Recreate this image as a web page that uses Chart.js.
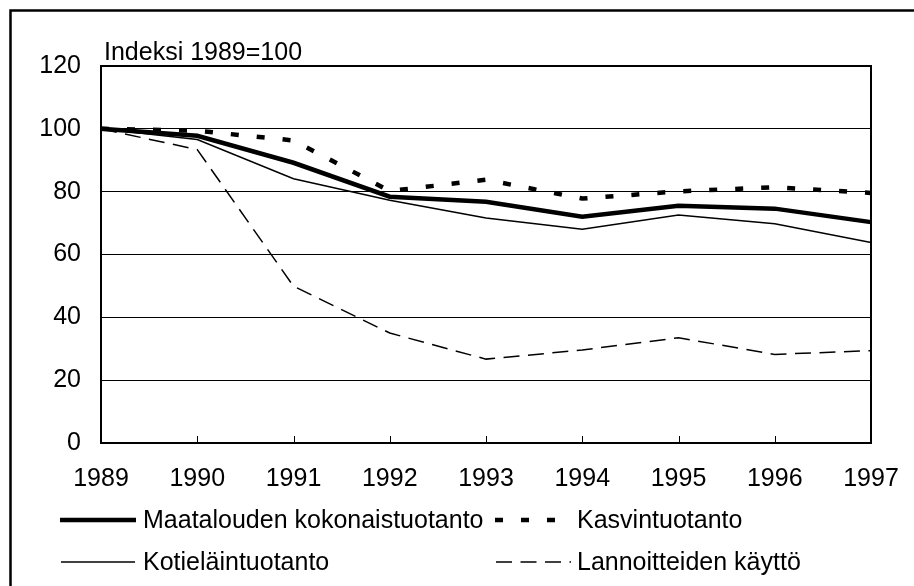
<!DOCTYPE html>
<html>
<head>
<meta charset="utf-8">
<script src="https://cdn.jsdelivr.net/npm/chart.js@4"></script>
<style>
  html, body { margin: 0; padding: 0; background: #fff; }
  #wrap { width: 914px; height: 586px; }
</style>
</head>
<body>
<div id="wrap"><canvas id="chart" width="914" height="586"></canvas></div>
<script>
const years = ['1989', '1990', '1991', '1992', '1993', '1994', '1995', '1996', '1997'];
const total = [100, 97.8, 89.2, 78.4, 76.8, 72.0, 75.5, 74.6, 70.3];
const crops = [100, 99.4, 96.3, 80.2, 83.8, 77.8, 80.1, 81.4, 79.6];
const livestock = [100, 96.6, 84.1, 77.3, 71.6, 68.0, 72.6, 69.8, 63.8];
const fertilizer = [100, 93.4, 49.9, 35.0, 26.7, 29.6, 33.5, 28.2, 29.4];
const yTicks = [0, 20, 40, 60, 80, 100, 120];

const FONT = "'Liberation Sans', Arial, sans-serif";
const FONT_SIZE = 25;

// where each legend entry sits: sample start/end, text x, row y
const legendSlots = [
    { x0: 60, x1: 136, tx: 143, y: 521 },
    { x0: 495, x1: 571, tx: 577, y: 521 },
    { x0: 61, x1: 135, tx: 143, y: 563 },
    { x0: 496, x1: 571, tx: 577, y: 563 }
];

const framePlugin = {
    id: 'frame',
    beforeDraw(chart) {
        const ctx = chart.ctx;
        ctx.save();
        ctx.fillStyle = '#fff';
        ctx.fillRect(0, 0, chart.width, chart.height);
        // outer frame (runs off the right and bottom edges)
        ctx.strokeStyle = '#000';
        ctx.lineWidth = 2.5;
        ctx.beginPath();
        ctx.moveTo(10.5, chart.height + 5);
        ctx.lineTo(10.5, 10.5);
        ctx.lineTo(chart.width + 5, 10.5);
        ctx.stroke();
        ctx.restore();
    },
    afterDraw(chart) {
        const ctx = chart.ctx;
        const a = chart.chartArea;
        const xs = chart.scales.x;
        ctx.save();
        // plot border
        ctx.strokeStyle = '#000';
        ctx.lineWidth = 2;
        ctx.strokeRect(a.left, a.top, a.right - a.left, a.bottom - a.top);
        // small inward tick marks on the x axis
        ctx.lineWidth = 1;
        for (let i = 1; i < years.length - 1; i++) {
            const px = Math.round(xs.getPixelForValue(i)) + 0.5;
            ctx.beginPath();
            ctx.moveTo(px, a.bottom);
            ctx.lineTo(px, a.bottom - 7);
            ctx.stroke();
        }
        // axis title
        ctx.fillStyle = '#000';
        ctx.font = FONT_SIZE + 'px ' + FONT;
        ctx.textAlign = 'left';
        ctx.textBaseline = 'alphabetic';
        ctx.fillText('Indeksi 1989=100', a.left + 3, a.top - 6);
        // legend
        chart.data.datasets.forEach((ds, i) => {
            const s = legendSlots[i];
            ctx.beginPath();
            ctx.lineWidth = ds.borderWidth;
            ctx.lineCap = 'butt';
            ctx.setLineDash(ds.borderDash || []);
            ctx.moveTo(s.x0, s.y - 1);
            ctx.lineTo(s.x1, s.y - 1);
            ctx.stroke();
            ctx.setLineDash([]);
            ctx.textBaseline = 'middle';
            ctx.fillText(ds.label, s.tx, s.y);
        });
        ctx.restore();
    }
};

new Chart(document.getElementById('chart'), {
    type: 'line',
    data: {
        labels: years,
        datasets: [
            { label: 'Maatalouden kokonaistuotanto', data: total, borderColor: '#000', borderWidth: 4.5 },
            { label: 'Kasvintuotanto', data: crops, borderColor: '#000', borderWidth: 4.5, borderDash: [8, 18] },
            { label: 'Kotieläintuotanto', data: livestock, borderColor: '#000', borderWidth: 1.5 },
            { label: 'Lannoitteiden käyttö', data: fertilizer, borderColor: '#000', borderWidth: 1.5, borderDash: [16, 8.5] }
        ]
    },
    options: {
        responsive: false,
        animation: false,
        events: [],
        layout: { padding: { left: 0, top: 66, right: 43, bottom: 93 } },
        elements: {
            point: { radius: 0 },
            line: { tension: 0, fill: false }
        },
        plugins: {
            legend: { display: false },
            tooltip: { enabled: false }
        },
        scales: {
            x: {
                offset: false,
                grid: { display: false },
                border: { display: false },
                ticks: { color: '#000', font: { family: FONT, size: FONT_SIZE }, padding: 13, maxRotation: 0, autoSkip: false },
                afterFit(s) { s.height = 50; }
            },
            y: {
                min: 0,
                max: 120,
                afterBuildTicks(s) { s.ticks = yTicks.map(v => ({ value: v })); },
                grid: {
                    drawTicks: false,
                    color: ctx => (ctx.tick && (ctx.tick.value === 0 || ctx.tick.value === 120)) ? 'rgba(0,0,0,0)' : '#000',
                    lineWidth: 1
                },
                border: { display: false },
                ticks: { color: '#000', font: { family: FONT, size: FONT_SIZE }, padding: 20 },
                afterFit(s) { s.width = 101; }
            }
        }
    },
    plugins: [framePlugin]
});
</script>
</body>
</html>
